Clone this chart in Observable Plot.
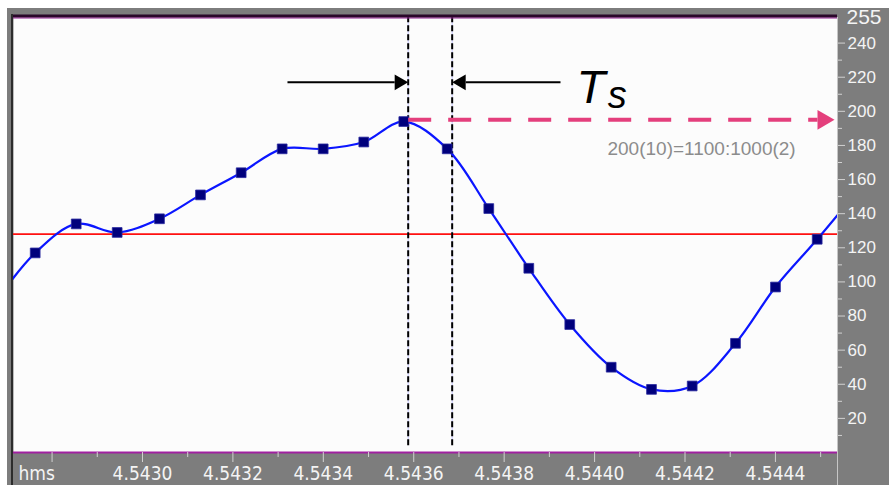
<!DOCTYPE html>
<html><head><meta charset="utf-8">
<script src="https://cdn.jsdelivr.net/npm/d3@7"></script>
<script src="https://cdn.jsdelivr.net/npm/@observablehq/plot@0.6"></script>
<style>
html,body{margin:0;padding:0;background:#fff;}
#wrap{padding:8px 0 0 7px;width:882px;}
#wrap svg{display:block;}
</style></head><body><div id="wrap"></div>
<script>
// sample instants (s) and 8-bit sample values
const sampleTimes = [4.5427627, 4.5428534, 4.5429440, 4.5430376, 4.5431283, 4.5432183, 4.5433090, 4.5433997, 4.5434895, 4.5435780,
                     4.5436740, 4.5437660, 4.5438545, 4.5439451, 4.5440367, 4.5441259, 4.5442159, 4.5443117, 4.5444001, 4.5444924];
const sampleValues = [117, 134, 129, 137, 151, 164, 178, 178, 182, 194,
                      178, 143, 108, 75, 50, 37, 39, 64, 97, 125];
// neighbouring samples just outside the visible window (the curve continues to the edges)
const edgeTimes = [4.5426717, 4.5445834];
const edgeValues = [87, 154];

const midLevel = 128;               // red centre line
const xDomain = [4.5427147, 4.5445373];
const yDomain = [0, 255];
const xMajorTicks = [4.5428, 4.5430, 4.5432, 4.5434, 4.5436, 4.5438, 4.5440, 4.5442, 4.5444];
const xMajorLabels = ["", "4.5430", "4.5432", "4.5434", "4.5436", "4.5438", "4.5440", "4.5442", "4.5444"];
const xMinorTicks = [4.5429, 4.5431, 4.5433, 4.5435, 4.5437, 4.5439, 4.5441, 4.5443, 4.5445];
const yMajorTicks = [20, 40, 60, 80, 100, 120, 140, 160, 180, 200, 220, 240];
const yMinorTicks = [10, 30, 50, 70, 90, 110, 130, 150, 170, 190, 210, 230];

// Ts annotation (sampling period)
const tsLines = [4.5435877, 4.5436850];
const tsArrowLevel = 217;
const tsLeftArrow = [4.5433207, 4.5435578];   // tail, head base
const tsRightArrow = [4.5439246, 4.5437149];  // tail, head base
const tsLabelT = {t: 4.5439600, v: 205};
const tsLabelS = {t: 4.5440290, v: 202};
// pink level arrow
const holdLevel = 195;
const holdArrow = [4.5435877, 4.5444930];
const noteText = "200(10)=1100:1000(2)";
const notePos = {t: 4.5440285, v: 178};

const samples = sampleTimes.map((t, i) => ({t, v: sampleValues[i]}));
const curve = [{t: edgeTimes[0], v: edgeValues[0]}, ...samples, {t: edgeTimes[1], v: edgeValues[1]}];
const xLabelMap = new Map(xMajorTicks.map((d, i) => [d, xMajorLabels[i]]));

function decor(index, scales, values, dims) {
  const {width, height, marginLeft, marginRight, marginTop} = dims;
  const g = d3.create("svg:g");
  g.append("line").attr("x1", marginLeft - 1).attr("x2", marginLeft - 1)
    .attr("y1", marginTop - 3).attr("y2", height).attr("stroke", "#2c2c2c").attr("stroke-width", 2);
  g.append("line").attr("x1", width - marginRight + 0.5).attr("x2", width - marginRight + 0.5)
    .attr("y1", marginTop).attr("y2", height).attr("stroke", "#c6c6c6").attr("stroke-width", 1);
  return g.node();
}

const axisFont = "Liberation Sans";
const narrowFont = "'Liberation Sans Narrow', 'DejaVu Sans Condensed', 'Liberation Sans'";

const chart = Plot.plot({
  width: 882, height: 477,
  marginLeft: 6, marginRight: 52, marginTop: 9, marginBottom: 33,
  x: {domain: xDomain, label: null},
  y: {domain: yDomain, label: null},
  style: {background: "#7d7d7d", fontFamily: axisFont, color: "#f4f4f4", overflow: "visible"},
  marks: [
    Plot.frame({fill: "#fcfcfc", stroke: null}),
    Plot.ruleY([midLevel], {stroke: "#ff1010", strokeWidth: 1.6}),
    Plot.ruleX(tsLines, {stroke: "#c8c8ff", strokeWidth: 1, y1: 4, y2: 255}),
    Plot.ruleX(tsLines, {stroke: "#000", strokeWidth: 2, strokeDasharray: "6,3", y1: 4, y2: 255}),
    Plot.line(curve, {x: "t", y: "v", curve: "catmull-rom", stroke: "#0b16ff", strokeWidth: 2.2, clip: true}),
    Plot.dot(samples, {x: "t", y: "v", symbol: "square", r: 5.5, fill: "#00007c", stroke: "#2a2aa0", strokeWidth: 0.8}),
    // pink dashed level arrow
    Plot.link([holdArrow], {x1: d => d[0], x2: d => d[1], y1: holdLevel, y2: holdLevel,
      stroke: "#e43f7c", strokeWidth: 4, strokeDasharray: "23,17"}),
    Plot.dot([holdArrow[1]], {x: d => d, y: holdLevel, symbol: "triangle", r: 7.3, rotate: 90, dx: 5.7, fill: "#e43f7c", stroke: null}),
    // Ts arrows
    Plot.link([tsLeftArrow, tsRightArrow], {x1: d => d[0], x2: d => d[1], y1: tsArrowLevel, y2: tsArrowLevel,
      stroke: "#000", strokeWidth: 2}),
    Plot.dot([tsLeftArrow[1]], {x: d => d, y: tsArrowLevel, symbol: "triangle", r: 5.8, rotate: 90, dx: 4.5, fill: "#000", stroke: null}),
    Plot.dot([tsRightArrow[1]], {x: d => d, y: tsArrowLevel, symbol: "triangle", r: 5.8, rotate: -90, dx: -4.5, fill: "#000", stroke: null}),
    Plot.text([tsLabelT], {x: "t", y: "v", text: () => "T", fontSize: 47, fontStyle: "italic", fill: "#000",
      textAnchor: "start", lineAnchor: "bottom", fontFamily: "Liberation Sans"}),
    Plot.text([tsLabelS], {x: "t", y: "v", text: () => "s", fontSize: 38, fontStyle: "italic", fill: "#000",
      textAnchor: "start", lineAnchor: "bottom", fontFamily: "Liberation Sans"}),
    Plot.text([notePos], {x: "t", y: "v", text: () => noteText, fontSize: 19, fill: "#8c8c8c", textAnchor: "start",
      fontFamily: "Liberation Sans"}),
    // top / bottom limit lines
    Plot.ruleY([255], {stroke: "#2a082a", strokeWidth: 3, dy: -1.5}),
    Plot.ruleY([255], {stroke: "#8c1f8c", strokeWidth: 1, dy: 0.5}),
    Plot.ruleY([0], {stroke: "#a020a0", strokeWidth: 2}),
    // axes
    Plot.axisY(yMajorTicks, {anchor: "right", tickSize: 7, tickPadding: 3, stroke: "#d2d2d2", fill: "#f4f4f4",
      fontSize: 17, label: null}),
    Plot.axisY(yMinorTicks, {anchor: "right", tickSize: 4, stroke: "#d2d2d2", tickFormat: () => "", label: null}),
    Plot.text(["255"], {frameAnchor: "top-right", textAnchor: "start", lineAnchor: "middle", dx: 9, fontSize: 21, fill: "#f4f4f4"}),
    Plot.axisX(xMajorTicks, {tickSize: 10, tickPadding: 4, stroke: "#d2d2d2", fill: "#f4f4f4", fontSize: 19,
      fontFamily: narrowFont, tickFormat: d => xLabelMap.get(d), label: null}),
    Plot.axisX(xMinorTicks, {tickSize: 5, stroke: "#d2d2d2", tickFormat: () => "", label: null}),
    Plot.text(["hms"], {frameAnchor: "bottom-left", textAnchor: "start", lineAnchor: "middle", dx: 5, dy: 21, fontSize: 19,
      fontFamily: narrowFont, fill: "#f4f4f4"}),
    decor
  ]
});
document.getElementById("wrap").appendChild(chart);
</script>
</body></html>
